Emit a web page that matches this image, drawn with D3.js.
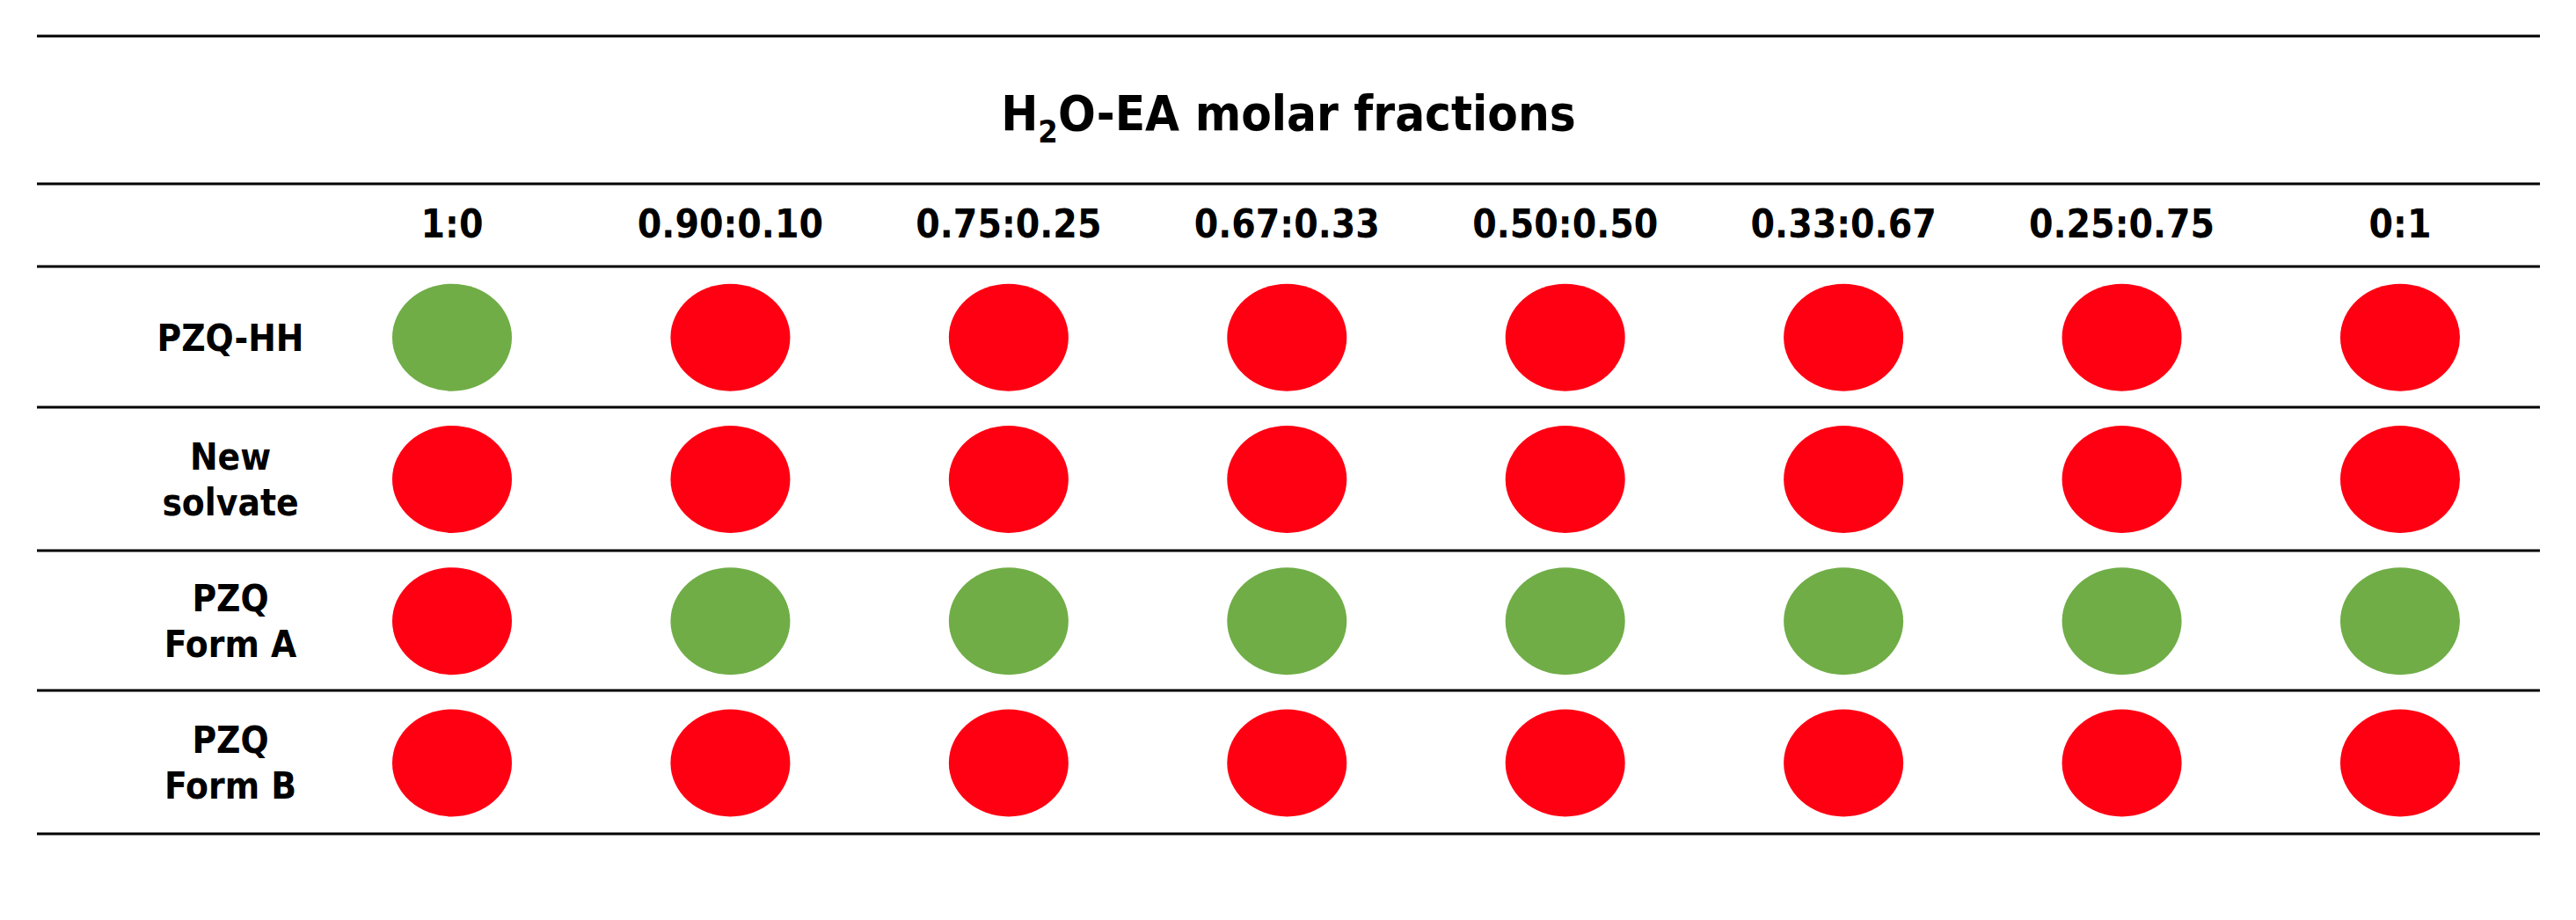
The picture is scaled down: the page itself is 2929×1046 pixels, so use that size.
<!DOCTYPE html>
<html><head><meta charset="utf-8">
<script src="https://cdn.jsdelivr.net/npm/d3@7"></script>
<style>body{margin:0;background:#fff}svg{display:block}</style>
</head><body>
<svg id="chart" width="2929" height="1046"></svg>
<script>
const fractions = ["1:0","0.90:0.10","0.75:0.25","0.67:0.33","0.50:0.50","0.33:0.67","0.25:0.75","0:1"];
const forms = [["PZQ-HH"],["New","solvate"],["PZQ","Form A"],["PZQ","Form B"]];
// 1 = green (obtained), 0 = red
const outcome = [
  [1,0,0,0,0,0,0,0],
  [0,0,0,0,0,0,0,0],
  [0,1,1,1,1,1,1,1],
  [0,0,0,0,0,0,0,0]
];

const svg = d3.select("#chart");
const font = "'DejaVu Sans Condensed','DejaVu Sans',sans-serif";
const left = 42, right = 2888;
const colX = [514,835,1153,1471,1789,2106,2424,2729];
const x = d3.scalePoint().domain(fractions).range([514,2729]);
const y = d3.scaleBand().domain(d3.range(forms.length)).range([303,948]);
const color = d3.scaleOrdinal().domain([0,1]).range(["#ff0013","#70ad47"]);

// horizontal rules
[41,209,303,463,626,785,948].forEach(v=>{
  svg.append("line").attr("x1",left).attr("x2",right).attr("y1",v).attr("y2",v)
    .attr("stroke","#000").attr("stroke-width",3);
});

// title
const t = svg.append("text").attr("x",1465).attr("y",148).attr("text-anchor","middle")
  .attr("font-family",font).attr("font-weight","bold").attr("font-size",56);
t.append("tspan").text("H");
t.append("tspan").text("2").attr("font-size",36).attr("dy",14);
t.append("tspan").text("O-EA molar fractions").attr("dy",-14);

// column headers
svg.selectAll(".hdr").data(fractions).join("text")
  .attr("x",d=>x(d)).attr("y",270).attr("text-anchor","middle")
  .attr("font-family",font).attr("font-weight","bold").attr("font-size",44)
  .text(d=>d);

// row labels
forms.forEach((lines,i)=>{
  const cy = y(i)+y.bandwidth()/2;
  const tx = svg.append("text").attr("x",262).attr("text-anchor","middle")
    .attr("font-family",font).attr("font-weight","bold").attr("font-size",42);
  lines.forEach((l,k)=>{
    tx.append("tspan").attr("x",262)
      .attr("y",cy+15+(k-(lines.length-1)/2)*52).text(l);
  });
});

// ellipses
outcome.forEach((row,i)=>{
  svg.selectAll(".r"+i).data(row).join("ellipse")
    .attr("cx",(d,j)=>x(fractions[j])).attr("cy",y(i)+y.bandwidth()/2)
    .attr("rx",68).attr("ry",61).attr("fill",d=>color(d));
});
</script>
</body></html>
